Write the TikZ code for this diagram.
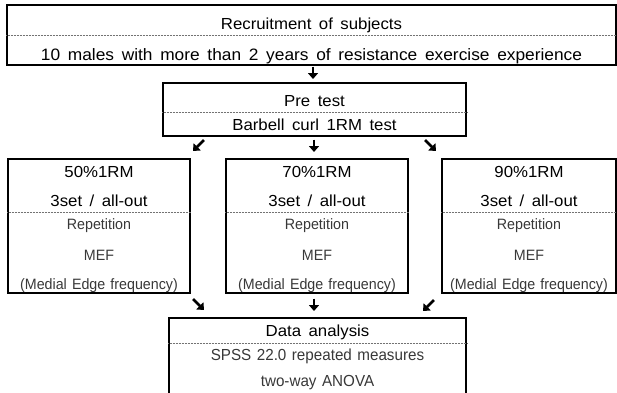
\documentclass[tikz,border=0pt]{standalone}
\usepackage{fontspec}
\setmainfont{Liberation Sans}[FakeStretch=1.05, WordSpace=1.6]
\newfontfamily\subfont{Liberation Sans}[FakeStretch=0.95, WordSpace=1.3]
\usetikzlibrary{arrows.meta}

\begin{document}
\begin{tikzpicture}[
    x=1pt, y=-1pt,
    box/.style={draw, rectangle, line width=1.9pt, inner sep=0pt},
    txt/.style={anchor=base, inner sep=0pt, font=\fontsize{16}{19}\selectfont},
    sub/.style={anchor=base, inner sep=0pt, text=black!78, font=\subfont\fontsize{15}{18}\selectfont},
    split/.style={densely dotted, line width=0.5pt, black!55},
    arrow/.style={-{Triangle[length=6pt, width=10pt]}, line width=2.6pt}
]
\clip (0,0) rectangle (617,392);

% boxes
\node[box, minimum width=609, minimum height=60] (recruit) at (311.5,35) {};
\node[box, minimum width=303, minimum height=53] (pre) at (314.5,109.5) {};
\node[box, minimum width=182, minimum height=134] (lbox) at (99,226) {};
\node[box, minimum width=182, minimum height=134] (mbox) at (317,226) {};
\node[box, minimum width=174, minimum height=134] (rbox) at (529,226) {};
\node[box, minimum width=297, minimum height=90] (data) at (317.5,363) {};

% dotted splits
\draw[split] (recruit.west |- 0,35.5) -- (recruit.east |- 0,35.5);
\draw[split] (pre.west |- 0,112) -- (pre.east |- 0,112);
\draw[split] (data.west |- 0,343) -- (data.east |- 0,343);
\foreach \b in {lbox, mbox, rbox}
    \draw[split] (\b.west |- 0,212) -- (\b.east |- 0,212);

% texts
\node[txt] (rtitle) at (recruit.center |- 0,29) {Recruitment of subjects};
\node[txt, font=\fontsize{16.5}{19}\selectfont] (rtext) at (recruit.center |- 0,60) {10 males with more than 2 years of resistance exercise experience};
\node[txt] (ptitle) at (pre.center |- 0,106) {Pre test};
\node[txt] (ptext) at (pre.center |- 0,130) {Barbell curl 1RM test};
\foreach \b/\p in {lbox/50, mbox/70, rbox/90} {
    \node[txt] (\b-load) at (\b.center |- 0,177) {\p\%1RM};
    \node[txt] (\b-set) at (\b.center |- 0,206) {3set / all-out};
    \node[sub] (\b-rep) at (\b.center |- 0,229) {Repetition};
    \node[sub] (\b-mef) at (\b.center |- 0,260) {MEF};
    \node[sub] (\b-full) at (\b.center |- 0,289) {(Medial Edge frequency)};
}
\node[txt] (dtitle) at (data.center |- 0,336) {Data analysis};
\node[sub, font=\subfont\fontsize{16}{19}\selectfont] (dtext) at (data.center |- 0,360) {SPSS 22.0 repeated measures};
\node[sub, font=\subfont\fontsize{16}{19}\selectfont] (dtest) at (data.center |- 0,386) {two-way ANOVA};

% arrows
\coordinate (a1s) at (313,66.5);  \coordinate (a1e) at (313,79);
\coordinate (a2s) at (204,140);   \coordinate (a2e) at (193,151);
\coordinate (a3s) at (314,139.5); \coordinate (a3e) at (314,152);
\coordinate (a4s) at (425,140);   \coordinate (a4e) at (436,151);
\coordinate (a5s) at (193,299);   \coordinate (a5e) at (204,310);
\coordinate (a6s) at (314,298.5); \coordinate (a6e) at (314,311);
\coordinate (a7s) at (434,300);   \coordinate (a7e) at (423,311);
\foreach \a in {a1, a2, a3, a4, a5, a6, a7}
    \draw[arrow] (\a s) -- (\a e);

\end{tikzpicture}
\end{document}
